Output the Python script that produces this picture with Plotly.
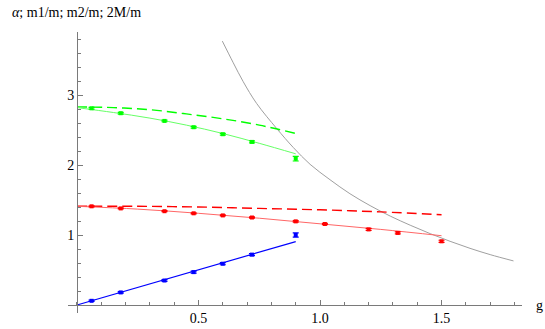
import plotly.graph_objects as go

# measured points (g values shared by all three data sets)
g_pts = [0.06, 0.18, 0.36, 0.48, 0.6, 0.72, 0.9]
g_red = [0.06, 0.18, 0.36, 0.48, 0.6, 0.72, 0.9, 1.02, 1.2, 1.32, 1.5]

blue_vals = [0.06, 0.18, 0.35, 0.47, 0.59, 0.72, 1.0]
blue_err = [0.01, 0.01, 0.012, 0.015, 0.015, 0.015, 0.03]

red_vals = [1.41, 1.38, 1.34, 1.31, 1.28, 1.25, 1.195, 1.157, 1.08, 1.03, 0.91]
red_err = [0.008, 0.008, 0.008, 0.008, 0.008, 0.008, 0.01, 0.01, 0.015, 0.015, 0.015]

green_vals = [2.81, 2.74, 2.63, 2.54, 2.44, 2.33, 2.09]
green_err = [0.012, 0.012, 0.012, 0.012, 0.012, 0.015, 0.033]

# fitted / predicted curves
fit_g_green = [0, 0.15, 0.3, 0.45, 0.6, 0.75, 0.9]
green_fit = [2.82, 2.75, 2.67, 2.57, 2.45, 2.31, 2.16]
green_dash = [2.83, 2.82, 2.79, 2.73, 2.66, 2.57, 2.45]

fit_g_red = [0, 0.25, 0.5, 0.75, 1.0, 1.25, 1.5]
red_fit = [1.41, 1.37, 1.31, 1.24, 1.16, 1.08, 0.99]
red_dash = [1.41, 1.41, 1.40, 1.38, 1.36, 1.33, 1.29]

blue_fit_g = [0, 0.9]
blue_fit = [0, 0.905]

gray_g = [0.598, 0.643, 0.684, 0.739, 0.822, 0.89, 0.959, 1.041, 1.123, 1.206,
          1.289, 1.371, 1.453, 1.535, 1.617, 1.7, 1.796]
gray_y = [3.77, 3.46, 3.19, 2.88, 2.52, 2.25, 2.01, 1.79, 1.59, 1.42,
          1.27, 1.14, 1.02, 0.91, 0.81, 0.72, 0.63]

GREEN = '#00ff00'
RED = '#ff0000'
BLUE = '#0000ff'
SERIF = "'Liberation Serif', Tinos, 'Times New Roman', Times, 'DejaVu Serif', serif"
AX = '#7a7a7a'

fig = go.Figure()

# curves
fig.add_trace(go.Scatter(x=gray_g, y=gray_y, mode='lines', line=dict(color='#a0a0a0', width=1, shape='spline')))
fig.add_trace(go.Scatter(x=fit_g_green, y=green_dash, mode='lines',
                         line=dict(color=GREEN, width=1.4, dash='10px,5px', shape='spline')))
fig.add_trace(go.Scatter(x=fit_g_green, y=green_fit, mode='lines',
                         line=dict(color='#66ff66', width=1, shape='spline')))
fig.add_trace(go.Scatter(x=fit_g_red, y=red_dash, mode='lines',
                         line=dict(color=RED, width=1.4, dash='10px,5px', shape='spline')))
fig.add_trace(go.Scatter(x=fit_g_red, y=red_fit, mode='lines',
                         line=dict(color='#ff6666', width=1, shape='spline')))
fig.add_trace(go.Scatter(x=blue_fit_g, y=blue_fit, mode='lines', line=dict(color=BLUE, width=1.2)))

# data with error bars
for xs, ys, es, col in [(g_pts, blue_vals, blue_err, BLUE),
                        (g_red, red_vals, red_err, RED),
                        (g_pts, green_vals, green_err, GREEN)]:
    fig.add_trace(go.Scatter(
        x=xs, y=ys, mode='markers',
        marker=dict(color=col, size=4, symbol='square'),
        error_y=dict(type='data', array=es, color=col, thickness=1.2, width=3),
    ))

xr = [-0.037, 1.831]
yr = [-0.114, 3.9]

fig.update_layout(
    width=545, height=329,
    margin=dict(l=68, r=23, t=32, b=16, autoexpand=False),
    plot_bgcolor='white', paper_bgcolor='white',
    showlegend=False,
    font=dict(family=SERIF, size=14, color='black'),
    xaxis=dict(
        range=xr, anchor='free', position=(0 - yr[0]) / (yr[1] - yr[0]), automargin=False,
        showgrid=False, zeroline=False, showline=True, linecolor=AX, linewidth=1,
        tickvals=[0.5, 1.0, 1.5], ticktext=['0.5', '1.0', '1.5'],
        ticks='inside', ticklen=5, tickcolor=AX,
        minor=dict(dtick=0.1, tick0=0, ticks='inside', ticklen=3, tickcolor=AX),
        tickfont=dict(family=SERIF, size=14),
    ),
    yaxis=dict(
        range=yr, anchor='free', position=(0 - xr[0]) / (xr[1] - xr[0]), automargin=False,
        showgrid=False, zeroline=False, showline=True, linecolor=AX, linewidth=1,
        tickvals=[1, 2, 3], ticktext=['1', '2', '3'],
        ticks='inside', ticklen=5, tickcolor=AX,
        minor=dict(dtick=0.2, tick0=0, ticks='inside', ticklen=3, tickcolor=AX),
        tickfont=dict(family=SERIF, size=14),
    ),
)

fig.add_annotation(xref='paper', yref='paper', x=-0.128, y=1.07, xanchor='left', yanchor='middle',
                   text='<i>α</i>; m1/m; m2/m; 2M/m', showarrow=False,
                   font=dict(family=SERIF, size=14))
fig.add_annotation(xref='paper', yref='y', x=1.0, y=0, xanchor='left', yanchor='middle', xshift=12,
                   text='g', showarrow=False, font=dict(family=SERIF, size=14))

fig.write_html("out.html", config={'displayModeBar': False},
               post_script="document.body.style.margin='0';")
